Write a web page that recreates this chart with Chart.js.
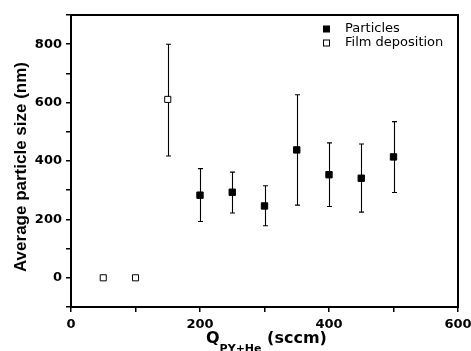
<!DOCTYPE html>
<html>
<head>
<meta charset="utf-8">
<script src="https://cdn.jsdelivr.net/npm/chart.js@4/dist/chart.umd.min.js"></script>
<style>
  html, body { margin: 0; padding: 0; background: #fff; }
</style>
</head>
<body>
<canvas id="chart" width="471" height="351"></canvas>
<script>
// flow rate (sccm) and average size (nm), with error bar ends
const particleX = [200, 250, 300, 350, 400, 450, 500]
const particleY = [283, 293, 246, 438, 353, 341, 414]
const particleLo = [193, 222, 178, 249, 244, 225, 292]
const particleHi = [374, 362, 315, 627, 462, 458, 535]

const filmX = [50, 100, 150]
const filmY = [0, 0, 611]
const filmLo = [null, null, 417]
const filmHi = [null, null, 800]

const xTickLabels = [0, 200, 400, 600]
const yTickLabels = [0, 200, 400, 600, 800]

const toPoints = (xs, ys, lo, hi) => xs.map((x, i) => ({ x: x, y: ys[i], lo: lo[i], hi: hi[i] }))

const errorBars = {
  id: 'errorBars',
  beforeDatasetsDraw(chart) {
    const ctx = chart.ctx
    const xs = chart.scales.x, ys = chart.scales.y
    ctx.save()
    ctx.strokeStyle = '#000'
    ctx.lineWidth = 1.1
    chart.data.datasets.forEach((ds) => {
      ds.data.forEach((p) => {
        if (p.lo == null) return
        const px = Math.round(xs.getPixelForValue(p.x)) + 0.5
        const top = ys.getPixelForValue(p.hi)
        const bot = ys.getPixelForValue(p.lo)
        ctx.beginPath()
        ctx.moveTo(px, top); ctx.lineTo(px, bot)
        ctx.moveTo(px - 2.5, top); ctx.lineTo(px + 2.5, top)
        ctx.moveTo(px - 2.5, bot); ctx.lineTo(px + 2.5, bot)
        ctx.stroke()
      })
    })
    ctx.restore()
  }
}

const frameAndText = {
  id: 'frameAndText',
  afterDraw(chart) {
    const ctx = chart.ctx
    const a = chart.chartArea
    ctx.save()
    ctx.strokeStyle = '#000'
    ctx.lineWidth = 2
    ctx.strokeRect(a.left, a.top, a.right - a.left, a.bottom - a.top)

    // y title
    ctx.fillStyle = '#000'
    ctx.font = 'bold 17px "Liberation Sans", Arial, sans-serif'
    ctx.textAlign = 'center'
    ctx.textBaseline = 'middle'
    ctx.translate(21, 167)
    ctx.rotate(-Math.PI / 2)
    ctx.fillText('Average particle size (nm)', 0, 0)
    ctx.setTransform(1, 0, 0, 1, 0, 0)

    // x title with subscript
    ctx.textAlign = 'left'
    ctx.textBaseline = 'alphabetic'
    const big = 'bold 16px "DejaVu Sans", sans-serif'
    const small = 'bold 11px "DejaVu Sans", sans-serif'
    ctx.font = big
    const wQ = ctx.measureText('Q').width
    ctx.font = small
    const wSub = ctx.measureText('PY+He').width
    let x = 206
    const base = 343
    ctx.font = big
    ctx.fillText('Q', x, base)
    x += wQ
    ctx.font = small
    ctx.fillText('PY+He', x, base + 9)
    x += wSub
    ctx.font = big
    ctx.fillText(' (sccm)', x, base)

    // legend
    ctx.font = '13px "DejaVu Sans", sans-serif'
    ctx.textBaseline = 'middle'
    chart.data.datasets.forEach((ds, i) => {
      const ly = 29 + i * 14
      ctx.fillStyle = ds.backgroundColor
      ctx.strokeStyle = '#000'
      ctx.lineWidth = 1
      ctx.fillRect(323.5, ly - 3, 6, 6)
      ctx.strokeRect(323.5, ly - 3, 6, 6)
      ctx.fillStyle = '#000'
      ctx.fillText(ds.label, 345, ly)
    })
    ctx.restore()
  }
}

const tickFont = { family: '"DejaVu Sans", sans-serif', size: 13, weight: 'bold' }

new Chart(document.getElementById('chart'), {
  type: 'scatter',
  data: {
    datasets: [{
      label: 'Particles',
      data: toPoints(particleX, particleY, particleLo, particleHi),
      pointStyle: 'rect',
      pointRadius: 4.5,
      backgroundColor: '#000',
      borderColor: '#000',
      borderWidth: 1
    },
    {
      label: 'Film deposition',
      data: toPoints(filmX, filmY, filmLo, filmHi),
      pointStyle: 'rect',
      pointRadius: 4.3,
      backgroundColor: '#fff',
      borderColor: '#000',
      borderWidth: 1
    }]
  },
  options: {
    responsive: false,
    animation: false,
    layout: { padding: { top: 15, right: 13, left: 0, bottom: 0 } },
    plugins: { legend: { display: false }, tooltip: { enabled: false } },
    scales: {
      x: {
        type: 'linear',
        min: 0, max: 600,
        border: { display: false },
        grid: { drawOnChartArea: false, color: '#000', tickLength: 5, lineWidth: 1.5 },
        ticks: {
          stepSize: 100,
          padding: 5,
          color: '#000',
          font: tickFont,
          maxRotation: 0,
          callback: (v) => xTickLabels.includes(v) ? String(v) : ''
        },
        afterFit: (s) => { s.height = 44; s.paddingLeft = 0; s.paddingRight = 0 }
      },
      y: {
        type: 'linear',
        min: -100, max: 900,
        border: { display: false },
        grid: { drawOnChartArea: false, color: '#000', tickLength: 5, lineWidth: 1.5 },
        ticks: {
          stepSize: 100,
          padding: 4,
          color: '#000',
          font: tickFont,
          callback: (v) => yTickLabels.includes(v) ? String(v) : ''
        },
        afterFit: (s) => { s.width = 71; s.paddingTop = 0; s.paddingBottom = 0 }
      }
    }
  },
  plugins: [errorBars, frameAndText]
})
</script>
</body>
</html>
